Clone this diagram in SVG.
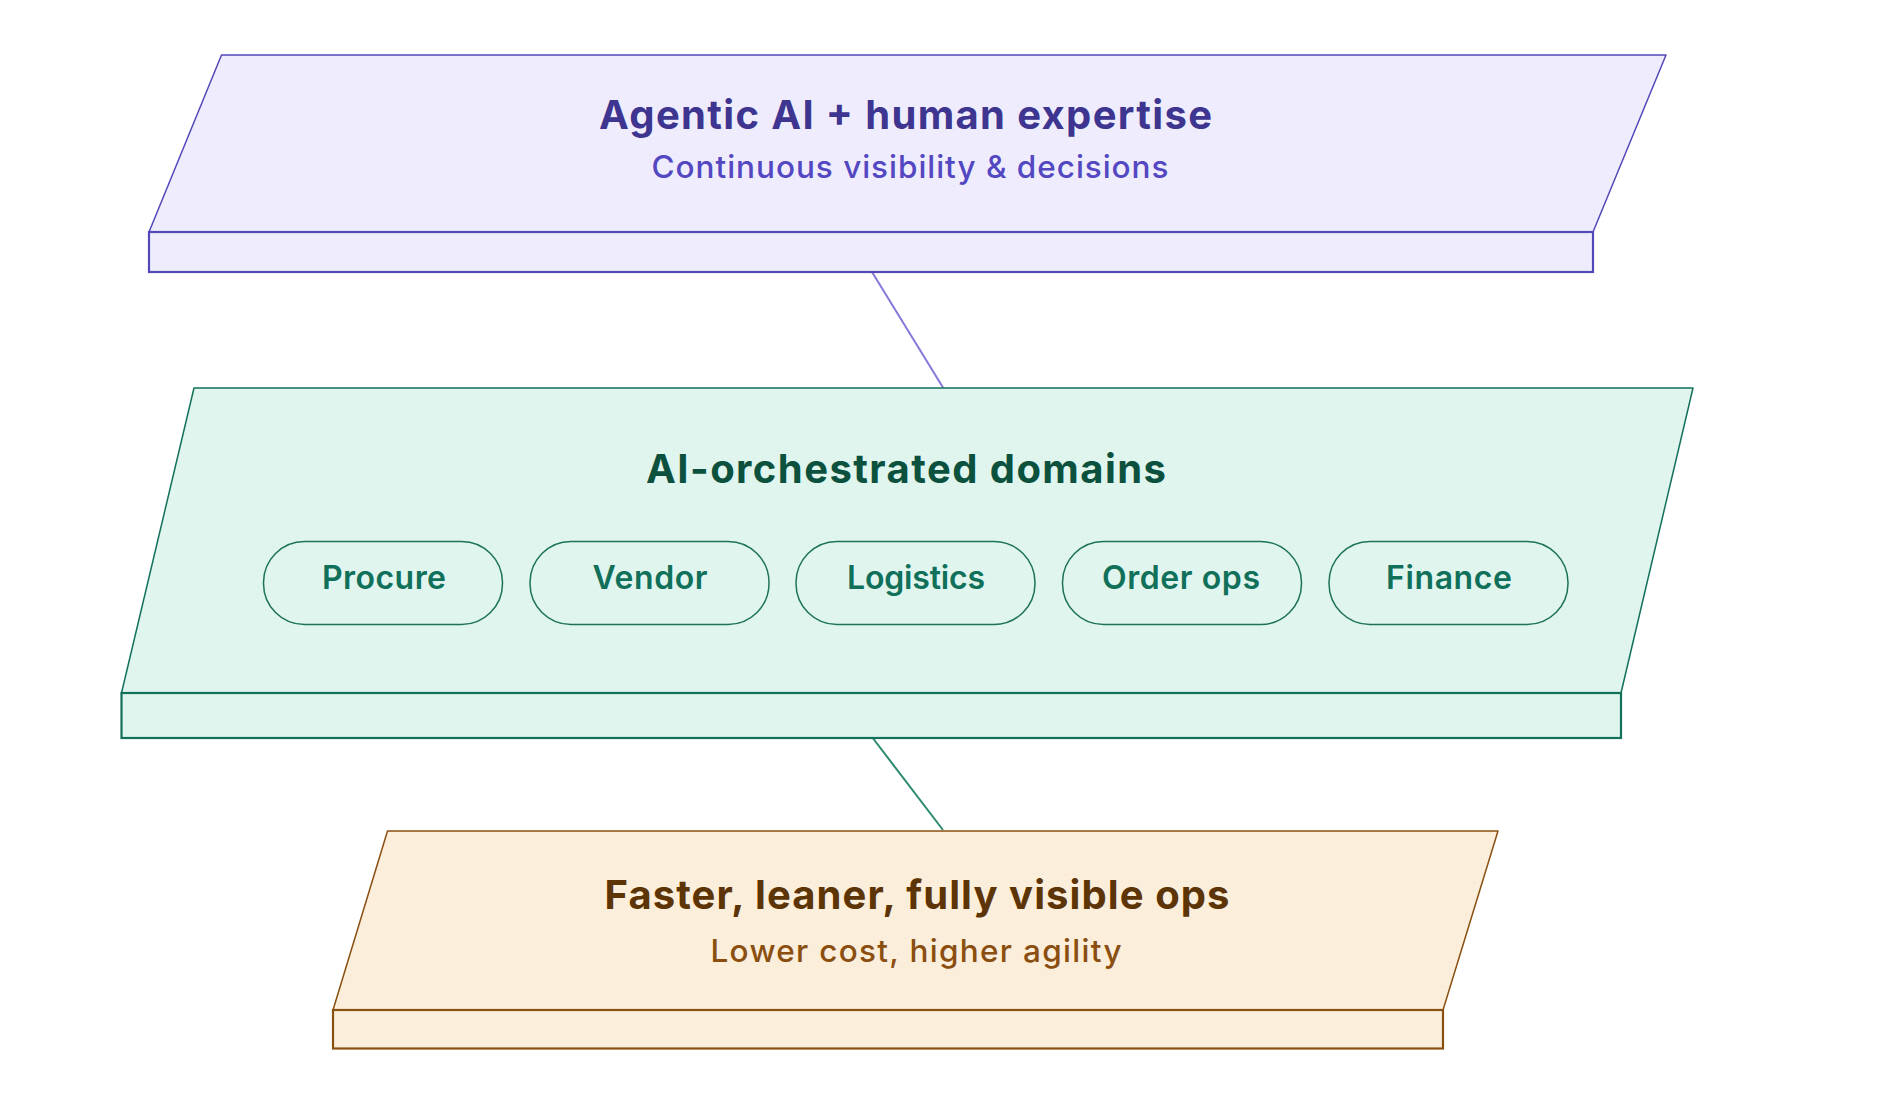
<svg xmlns="http://www.w3.org/2000/svg" width="1887" height="1110" viewBox="0 0 1887 1110">
  <defs>
    <pattern id="dots" width="8" height="8" patternUnits="userSpaceOnUse">
      <circle cx="2" cy="2" r="0.6" fill="#000" fill-opacity="0.05"/>
    </pattern>
  </defs>
  <style>
    text { font-family: Inter, "Noto Sans", "Liberation Sans", sans-serif; text-anchor: middle; }
    .title { font-size: 40px; font-weight: 700; }
    .sub { font-size: 31.5px; font-weight: 500; }
    .pilltxt { font-size: 32px; font-weight: 600; fill: #10705a; }
    .p-face { fill: #efedfd; stroke: #5248b8; stroke-width: 1.5; stroke-linejoin: round; }
    .p-slab { fill: #efedfd; stroke: #5248b8; stroke-width: 2.2; }
    .g-face { fill: #e0f5ee; stroke: #13705a; stroke-width: 1.5; stroke-linejoin: round; }
    .g-slab { fill: #e0f5ee; stroke: #13705a; stroke-width: 2.2; }
    .o-face { fill: #fbeedb; stroke: #8a5012; stroke-width: 1.5; stroke-linejoin: round; }
    .o-slab { fill: #fbeedb; stroke: #8a5012; stroke-width: 2.2; }
    .tex { fill: url(#dots); stroke: none; }
    .pill { fill: #e0f5ee; stroke: #1d7259; stroke-width: 1.5; }
  </style>

  <g id="connectors">
    <line x1="872" y1="272" x2="943" y2="387.5" stroke="#8279d9" stroke-width="2"/>
    <line x1="872" y1="737" x2="943" y2="830" stroke="#2b8a70" stroke-width="2"/>
  </g>

  <g id="layer-top">
    <polygon class="p-face" points="221.5,55 1666,55 1593,232 149,232"/>
    <polygon class="tex" points="221.5,55 1666,55 1593,232 149,232"/>
    <rect class="p-slab" x="149" y="232" width="1444" height="40"/>
    <rect class="tex" x="149" y="232" width="1444" height="40"/>
    <text class="title" x="905.5" y="129" fill="#3d3590" textLength="613" lengthAdjust="spacing">Agentic AI + human expertise</text>
    <text class="sub" x="910" y="178" fill="#5347c2" textLength="517" lengthAdjust="spacing">Continuous visibility &amp; decisions</text>
  </g>

  <g id="layer-middle">
    <polygon class="g-face" points="194,388 1693,388 1621,693 121.5,693"/>
    <polygon class="tex" points="194,388 1693,388 1621,693 121.5,693"/>
    <rect class="g-slab" x="121.5" y="693" width="1499.5" height="45"/>
    <rect class="tex" x="121.5" y="693" width="1499.5" height="45"/>
    <text class="title" x="906" y="483" fill="#0b513d" textLength="520" lengthAdjust="spacing">AI-orchestrated domains</text>
  </g>

  <g id="pill-procure">
    <rect class="pill" x="263.5" y="541.5" width="239" height="83" rx="41"/>
    <text class="pilltxt" x="384" y="589" textLength="124" lengthAdjust="spacing">Procure</text>
  </g>
  <g id="pill-vendor">
    <rect class="pill" x="530" y="541.5" width="239" height="83" rx="41"/>
    <text class="pilltxt" x="650" y="589" textLength="115" lengthAdjust="spacing">Vendor</text>
  </g>
  <g id="pill-logistics">
    <rect class="pill" x="796" y="541.5" width="239" height="83" rx="41"/>
    <text class="pilltxt" x="916" y="589" textLength="138" lengthAdjust="spacing">Logistics</text>
  </g>
  <g id="pill-orderops">
    <rect class="pill" x="1062.5" y="541.5" width="239" height="83" rx="41"/>
    <text class="pilltxt" x="1181" y="589" textLength="158" lengthAdjust="spacing">Order ops</text>
  </g>
  <g id="pill-finance">
    <rect class="pill" x="1329" y="541.5" width="239" height="83" rx="41"/>
    <text class="pilltxt" x="1449" y="589" textLength="126" lengthAdjust="spacing">Finance</text>
  </g>

  <g id="layer-bottom">
    <polygon class="o-face" points="387.5,831 1498,831 1443,1010 333,1010"/>
    <polygon class="tex" points="387.5,831 1498,831 1443,1010 333,1010"/>
    <rect class="o-slab" x="333" y="1010" width="1110" height="38.5"/>
    <rect class="tex" x="333" y="1010" width="1110" height="38.5"/>
    <text class="title" x="917" y="909" fill="#5c3406" textLength="625" lengthAdjust="spacing">Faster, leaner, fully visible ops</text>
    <text class="sub" x="916" y="962" fill="#8a4e10" textLength="411" lengthAdjust="spacing">Lower cost, higher agility</text>
  </g>
</svg>
